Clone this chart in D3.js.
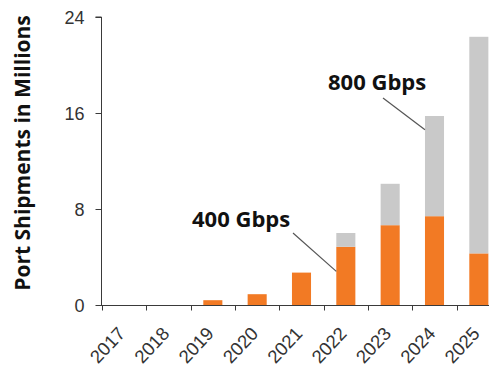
<!DOCTYPE html>
<html>
<head>
<meta charset="utf-8">
<script src="https://cdn.jsdelivr.net/npm/d3@7"></script>
<style>
  html, body { margin: 0; padding: 0; background: #fff; }
  svg { display: block; font-family: "Open Sans", sans-serif; }
</style>
</head>
<body>
<svg id="chart" width="489" height="367"></svg>
<script>
const years = ["2017","2018","2019","2020","2021","2022","2023","2024","2025"];
const gbps400 = [0, 0, 0.4, 0.9, 2.7, 4.85, 6.65, 7.4, 4.3];
const gbps800 = [0, 0, 0, 0, 0, 1.15, 3.45, 8.35, 18.05];
const yTicks = [0, 8, 16, 24];
const yTitle = "Port Shipments in Millions";
const annotations = [
  { label: "400 Gbps", year: "2022", value: 2.8 },
  { label: "800 Gbps", year: "2024", value: 14.6 }
];

const svg = d3.select("#chart");
const orange = "#f27a24", grey = "#c9c9c9", axisColor = "#3a3a3a", textColor = "#333";

const x = d3.scaleBand().domain(years).range([102, 501]).paddingInner(0.57).paddingOuter(0.285);
const y = d3.scaleLinear().domain([0, 24]).range([305, 17]);

const stackData = years.map((yr, i) => ({ year: yr, a: gbps400[i], b: gbps800[i] }));
const series = d3.stack().keys(["a", "b"])(stackData);
const colors = { a: orange, b: grey };

svg.append("g").selectAll("g").data(series).join("g")
  .attr("fill", d => colors[d.key])
  .selectAll("rect").data(d => d).join("rect")
  .attr("x", d => x(d.data.year))
  .attr("width", x.bandwidth())
  .attr("y", d => y(d[1]))
  .attr("height", d => y(d[0]) - y(d[1]));

// Y axis
const yAxis = svg.append("g").attr("transform", "translate(101.5,0)")
  .call(d3.axisLeft(y).tickValues(yTicks).tickSize(6).tickPadding(11));
yAxis.select(".domain").attr("stroke", axisColor).attr("d", `M-6,${y(24)}H0V${y(0)}`);
yAxis.selectAll(".tick line").attr("stroke", axisColor);
yAxis.selectAll(".tick text").attr("fill", textColor).style("font-size", "18px").attr("dy", "0.34em");

// X axis
const xAxis = svg.append("g").attr("transform", `translate(0,${y(0) + 0.5})`)
  .call(d3.axisBottom(x).tickSize(0).tickPadding(0));
xAxis.select(".domain").remove();
xAxis.append("line").attr("x1", 96).attr("x2", 489).attr("stroke", axisColor);
const step = x.step();
xAxis.selectAll(".tick line").remove();
xAxis.selectAll(".bnd").data(years).join("line")
  .attr("class", "bnd")
  .attr("x1", d => Math.round(x(d) - step * 0.285) + 0.5)
  .attr("x2", d => Math.round(x(d) - step * 0.285) + 0.5)
  .attr("y1", 0).attr("y2", 5).attr("stroke", axisColor);
xAxis.selectAll(".tick text")
  .attr("fill", textColor).style("font-size", "18.5px")
  .attr("text-anchor", "end")
  .attr("dy", 0).attr("y", 0)
  .attr("transform", "translate(2,29) rotate(-47)");

// Y title
svg.append("text")
  .attr("transform", `translate(30,153) rotate(-90)`)
  .attr("text-anchor", "middle")
  .style("font-size", "21px").style("font-weight", "bold")
  .attr("fill", "#111")
  .text(yTitle);

// Annotations
const annPos = [
  { tx: 192, ty: 227, lx1: 293, ly1: 233 },
  { tx: 328, ty: 89.5, lx1: 383, ly1: 98 }
];
annotations.forEach((a, i) => {
  const p = annPos[i];
  svg.append("line")
    .attr("x1", p.lx1).attr("y1", p.ly1)
    .attr("x2", x(a.year)).attr("y2", y(a.value))
    .attr("stroke", "#555").attr("stroke-width", 1.2);
  svg.append("text")
    .attr("x", p.tx).attr("y", p.ty)
    .style("font-size", "22px").style("font-weight", "bold")
    .attr("fill", "#111")
    .text(a.label);
});
</script>
</body>
</html>
